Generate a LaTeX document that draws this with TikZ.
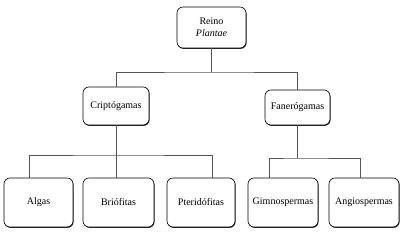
\documentclass[tikz,border=0pt]{standalone}
\usepackage{fontspec}
\setmainfont{Liberation Serif}
\usepackage{tikz}
\usetikzlibrary{shadows}
\definecolor{linkgray}{HTML}{555555}

\begin{document}
\begin{tikzpicture}[
  x=1pt, y=1pt, font=\fontsize{10}{12}\selectfont,
  taxon/.style={rounded corners=6pt, draw=black, fill=white, line width=0.6pt,
                align=center, inner sep=2pt,
                drop shadow={shadow xshift=0.6pt, shadow yshift=-0.9pt, fill=black!80, opacity=1}},
  link/.style={draw=linkgray, line width=0.9pt}
]
\useasboundingbox (0,0) rectangle (400,-232);

% kingdom
\node[taxon, minimum width=69pt, minimum height=41pt] (reino) at (211.5,-27.5) {Reino\\\textit{Plantae}};

% groups
\node[taxon, minimum width=66pt, minimum height=38pt] (cripto) at (116,-106)   {Criptógamas};
\node[taxon, minimum width=65pt, minimum height=35pt] (fanero) at (297.5,-107.5) {Fanerógamas};

% divisions
\node[taxon, minimum width=69pt, minimum height=49pt] (algas) at (38.5,-202.5)  {Algas};
\node[taxon, minimum width=71pt, minimum height=49pt] (brio)  at (118.5,-202.5) {Briófitas};
\node[taxon, minimum width=68pt, minimum height=49pt] (pteri) at (201,-202.5)   {Pteridófitas};
\node[taxon, minimum width=70pt, minimum height=49pt] (gimno) at (283,-202.5)   {Gimnospermas};
\node[taxon, minimum width=70pt, minimum height=49pt] (angio) at (364,-202.5)   {Angiospermas};

% joints
\coordinate (jr) at (reino.south |- 0,-72);
\coordinate (jc) at (cripto.south |- 0,-155);
\coordinate (jf) at (fanero.south |- 0,-158);

% connectors
\draw[link] (reino) -- (jr);
\draw[link] (cripto.north) |- (jr) -| (fanero.north);
\draw[link] (cripto.south) -- (cripto.south |- brio.north);
\draw[link] ([xshift=-9pt]algas.north) |- (jc) -| ([xshift=11pt]pteri.north);
\draw[link] (fanero) -- (jf);
\draw[link] ([xshift=-14pt]gimno.north) |- (jf) -| ([xshift=-4pt]angio.north);
\end{tikzpicture}
\end{document}
